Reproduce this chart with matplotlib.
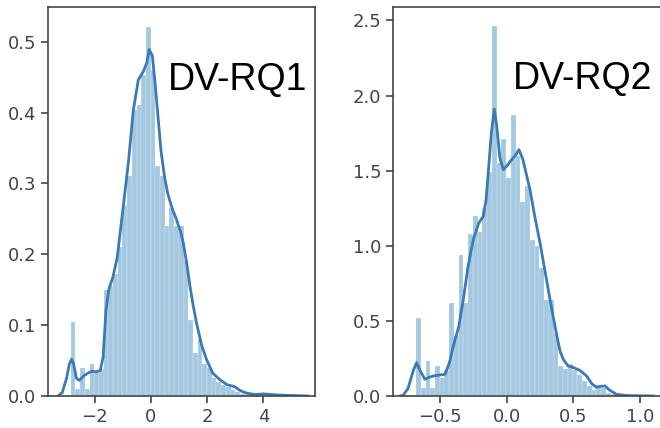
import matplotlib.pyplot as plt
import numpy as np

# Istogramma DV-RQ1 (densita' per bin)
bin_start_1 = -2.85
bin_width_1 = 0.167
heights_1 = [0.105, 0.010, 0.040, 0.010, 0.045, 0.033, 0.038, 0.150, 0.155, 0.172,
             0.210, 0.270, 0.310, 0.404, 0.410, 0.453, 0.520, 0.460, 0.324, 0.310,
             0.240, 0.265, 0.240, 0.240, 0.190, 0.107, 0.060, 0.080, 0.045, 0.040,
             0.025, 0.020, 0.015, 0.012, 0.008, 0.005, 0.003, 0.002, 0.002, 0.004,
             0.003, 0.002, 0.002, 0.001, 0.001, 0.001, 0.001, 0.001, 0.001, 0.001]

# Curva KDE DV-RQ1
kde_x_1 = [-3.30, -3.15, -3.00, -2.90, -2.82, -2.75, -2.65, -2.55, -2.40, -2.25,
           -2.10, -1.95, -1.80, -1.70, -1.60, -1.50, -1.35, -1.20, -1.00, -0.80,
           -0.63, -0.45, -0.27, -0.15, -0.06, 0.05, 0.15, 0.26, 0.36, 0.48,
           0.60, 0.75, 0.90, 1.05, 1.15, 1.28, 1.39, 1.50, 1.62, 1.80,
           1.98, 2.20, 2.45, 2.70, 2.98, 3.20, 3.40, 3.70, 4.00, 4.30,
           4.70, 5.20, 5.60]
kde_y_1 = [0.0, 0.005, 0.025, 0.045, 0.052, 0.045, 0.025, 0.022, 0.028, 0.032,
           0.035, 0.034, 0.036, 0.055, 0.120, 0.150, 0.168, 0.195, 0.262, 0.330,
           0.402, 0.446, 0.458, 0.470, 0.489, 0.480, 0.440, 0.390, 0.345, 0.310,
           0.285, 0.265, 0.250, 0.232, 0.216, 0.185, 0.154, 0.128, 0.103, 0.072,
           0.051, 0.032, 0.023, 0.016, 0.013, 0.007, 0.004, 0.002, 0.003, 0.002,
           0.001, 0.0005, 0.0]

# Istogramma DV-RQ2
bin_start_2 = -0.68
bin_width_2 = 0.0356
heights_2 = [0.52, 0.05, 0.23, 0.05, 0.20, 0.12, 0.17, 0.62, 0.40, 0.94,
             0.62, 1.08, 1.20, 1.09, 1.25, 1.49, 2.46, 1.55, 1.71, 1.45,
             1.87, 1.60, 1.29, 1.40, 1.04, 1.00, 0.85, 0.64, 0.64, 0.42,
             0.20, 0.18, 0.21, 0.17, 0.14, 0.10, 0.067, 0.04, 0.073, 0.05,
             0.02, 0.01, 0.005, 0.005, 0.005, 0.004, 0.004, 0.003, 0.003, 0.003]

# Curva KDE DV-RQ2
kde_x_2 = [-0.80, -0.776, -0.74, -0.70, -0.675, -0.65, -0.613, -0.58, -0.55, -0.50,
           -0.463, -0.43, -0.40, -0.36, -0.325, -0.29, -0.25, -0.21, -0.175, -0.155,
           -0.138, -0.115, -0.093, -0.075, -0.05, -0.025, 0.0, 0.037, 0.065, 0.092,
           0.12, 0.175, 0.21, 0.25, 0.29, 0.325, 0.37, 0.40, 0.425, 0.46,
           0.50, 0.55, 0.60, 0.64, 0.675, 0.71, 0.737, 0.77, 0.825, 0.90,
           1.00, 1.10]
kde_y_2 = [0.0, 0.005, 0.05, 0.17, 0.222, 0.17, 0.111, 0.125, 0.133, 0.14,
           0.144, 0.22, 0.333, 0.46, 0.643, 0.86, 1.042, 1.15, 1.197, 1.30,
           1.486, 1.75, 1.91, 1.80, 1.58, 1.507, 1.53, 1.574, 1.60, 1.64,
           1.58, 1.374, 1.20, 1.02, 0.82, 0.643, 0.43, 0.30, 0.244, 0.20,
           0.19, 0.17, 0.133, 0.08, 0.058, 0.065, 0.067, 0.04, 0.011, 0.003,
           0.001, 0.0]

labels = ["DV-RQ1", "DV-RQ2"]

bar_color = "#1f77b4"
line_color = "#3a7ab5"
spine_color = "#444444"

fig = plt.figure(figsize=(6.6, 4.28), dpi=100)
ax1 = fig.add_axes([0.0727, 0.0748, 0.4045, 0.909])
ax2 = fig.add_axes([0.596, 0.0748, 0.41, 0.909])

panels = [
    (ax1, bin_start_1, bin_width_1, heights_1, kde_x_1, kde_y_1),
    (ax2, bin_start_2, bin_width_2, heights_2, kde_x_2, kde_y_2),
]

for ax, start, width, heights, kx, ky in panels:
    edges = start + width * np.arange(len(heights))
    ax.bar(edges, heights, width=width, align="edge", color=bar_color,
           alpha=0.4, edgecolor="white", linewidth=0.35)
    ax.plot(kx, ky, color=line_color, linewidth=2)
    for s in ax.spines.values():
        s.set_color(spine_color)
        s.set_linewidth(1.2)
    ax.tick_params(labelsize=13, colors=spine_color, length=5, width=1.2)

ax1.set_xlim(-3.66, 5.83)
ax1.set_ylim(0, 0.549)
ax1.set_xticks([-2, 0, 2, 4])
ax1.set_yticks([0.0, 0.1, 0.2, 0.3, 0.4, 0.5])

ax2.set_xlim(-0.85, 1.18)
ax2.set_ylim(0, 2.59)
ax2.set_xticks([-0.5, 0.0, 0.5, 1.0])
ax2.set_yticks([0.0, 0.5, 1.0, 1.5, 2.0, 2.5])

# Etichette grandi dentro i grafici
fig.text(168 / 660, 1 - 90 / 428, labels[0], fontsize=27, family="Liberation Sans",
         ha="left", va="baseline")
fig.text(512.7 / 660, 1 - 89 / 428, labels[1], fontsize=27, family="Liberation Sans",
         ha="left", va="baseline")

fig.savefig("out.png", dpi=100)
